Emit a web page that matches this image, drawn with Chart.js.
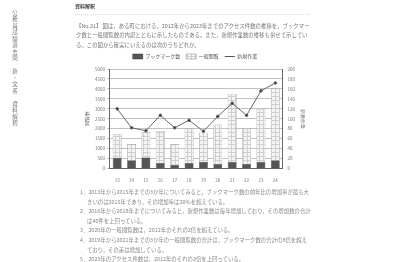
<!DOCTYPE html>
<html>
<head>
<meta charset="utf-8">
<script src="https://cdn.jsdelivr.net/npm/chart.js@4/dist/chart.umd.min.js"></script>
<style>
  body { margin: 0; background: #fff; font-family: "Noto Sans CJK JP", sans-serif; color: #6a6a6a; }
  .page { position: relative; width: 412px; height: 262px; overflow: hidden; filter: blur(0.4px); }
  .side { position: absolute; left: 11px; top: 10px; writing-mode: vertical-rl; font-size: 5.5px; letter-spacing: 1px; color: #777; }
  .head { position: absolute; left: 75px; top: 2px; font-size: 5px; font-weight: bold; color: #444; }
  .rule { position: absolute; left: 75px; top: 14px; width: 235px; border-top: 1px dotted #ddd; }
  .para { position: absolute; left: 76px; top: 22px; width: 236px; font-size: 5.4px; line-height: 9.3px; color: #777; }
  .opts { position: absolute; left: 80px; top: 188px; width: 232px; font-size: 5.4px; line-height: 9.6px; color: #888; }
  .opts div { padding-left: 7px; text-indent: -7px; }
  #wrap { position: absolute; left: 83px; top: 48px; width: 224px; height: 136px; }
</style>
</head>
<body>
<div class="page">
  <div class="side">公務員試験過去問　新・文系　資料解釈</div>
  <div class="head">資料解釈</div>
  <div class="rule"></div>
  <div class="para">【No.31】 図は，ある町における，2012年から2023年までのアクセス件数の推移を，ブックマーク数と一般閲覧数の内訳とともに示したものである。また，新規作業数の推移も併せて示している。この図から確実にいえるのは次のうちどれか。</div>
  <div id="wrap"><canvas id="myChart"></canvas></div>
  <div class="opts">
    <div>1．2013年から2015年までの3か年についてみると，ブックマーク数の前年比の増加率が最も大きいのは2015年であり，その増加率は20％を超えている。</div>
    <div>2．2016年から2018年までについてみると，新規作業数は毎年増加しており，その増加数の合計は40件を上回っている。</div>
    <div>3．2020年の一般閲覧数は，2012年のそれの2倍を超えている。</div>
    <div>4．2019年から2021年までの3か年の一般閲覧数の合計は，ブックマーク数の合計の8倍を超えており，その差は増加している。</div>
    <div>5．2023年のアクセス件数は，2012年のそれの2倍を上回っている。</div>
  </div>
</div>
<script>
var ctx = document.getElementById("myChart").getContext('2d');

var years = ['13', '14', '15', '16', '17', '18', '19', '20', '21', '22', '23', '24'];
var bookmarks = [540, 420, 555, 285, 195, 285, 345, 240, 345, 240, 345, 420];
var views = [1200, 810, 1290, 1605, 1035, 1740, 1455, 1980, 3405, 1800, 2655, 3600];
var newWork = [120, 82, 76, 107, 82, 97, 75, 105, 131, 107, 156, 172];

// legend order: dark bar, hatched bar, line
var legendOrder = [2, 0, 1];

function hatchPattern() {
    var c = document.createElement('canvas');
    c.width = 4;
    c.height = 4;
    var g = c.getContext('2d');
    g.fillStyle = '#f4f4f4';
    g.fillRect(0, 0, 4, 4);
    g.fillStyle = '#cfcfcf';
    g.fillRect(0, 0, 4, 1);
    g.fillRect(0, 0, 1, 4);
    return ctx.createPattern(c, 'repeat');
}

var tickFont = { size: 4.5, family: 'Noto Sans CJK JP' };

var mychart = new Chart(ctx, {
    data: {
        labels: years,
        datasets: [{
            type: 'line',
            label: '新規作業',
            data: newWork,
            yAxisID: 'y2',
            borderColor: '#666',
            backgroundColor: '#333',
            borderWidth: 1,
            pointRadius: 1.3,
            tension: 0,
            order: 0
        }, {
            type: 'bar',
            label: 'ブックマーク数',
            data: bookmarks,
            backgroundColor: '#555',
            borderColor: '#333',
            borderWidth: 0.5,
            barPercentage: 0.62,
            categoryPercentage: 1,
            order: 1
        }, {
            type: 'bar',
            label: '一般閲覧',
            data: views,
            backgroundColor: hatchPattern(),
            borderColor: '#999',
            borderWidth: 0.6,
            barPercentage: 0.62,
            categoryPercentage: 1,
            order: 1
        }]
    },
    options: {
        responsive: true,
        maintainAspectRatio: false,
        animation: false,
        plugins: {
            legend: {
                position: 'top',
                labels: {
                    usePointStyle: true,
                    pointStyleWidth: 10,
                    boxHeight: 5,
                    padding: 6,
                    color: '#555',
                    font: { size: 5, family: 'Noto Sans CJK JP' },
                    generateLabels: function (chart) {
                        var items = Chart.defaults.plugins.legend.labels.generateLabels(chart);
                        items.forEach(function (it) {
                            if (it.datasetIndex === 0) {
                                it.pointStyle = 'line';
                                it.strokeStyle = '#555';
                                it.lineWidth = 1;
                            } else {
                                it.pointStyle = 'rect';
                            }
                        });
                        return items;
                    },
                    sort: function (a, b) { return legendOrder[a.datasetIndex] - legendOrder[b.datasetIndex]; }
                }
            },
            tooltip: { enabled: false }
        },
        scales: {
            x: {
                stacked: true,
                grid: { display: false },
                border: { color: '#666' },
                ticks: { color: '#777', font: tickFont, padding: 1 }
            },
            y: {
                stacked: true,
                min: 0,
                max: 5000,
                ticks: { stepSize: 500, color: '#777', font: tickFont, padding: 2, callback: function (v) { return String(v); } },
                grid: { color: '#999', lineWidth: 0.6, tickLength: 3 },
                border: { color: '#666' },
                title: { display: true, text: '閲覧数', color: '#666', font: { size: 5 }, padding: 2 }
            },
            y2: {
                position: 'right',
                min: 0,
                max: 200,
                ticks: { stepSize: 20, color: '#777', font: tickFont, padding: 2 },
                grid: { display: false, tickLength: 3 },
                border: { color: '#666' },
                title: { display: true, text: '新規作業', color: '#666', font: { size: 5 }, padding: 2 }
            }
        }
    }
});
</script>
</body>
</html>
